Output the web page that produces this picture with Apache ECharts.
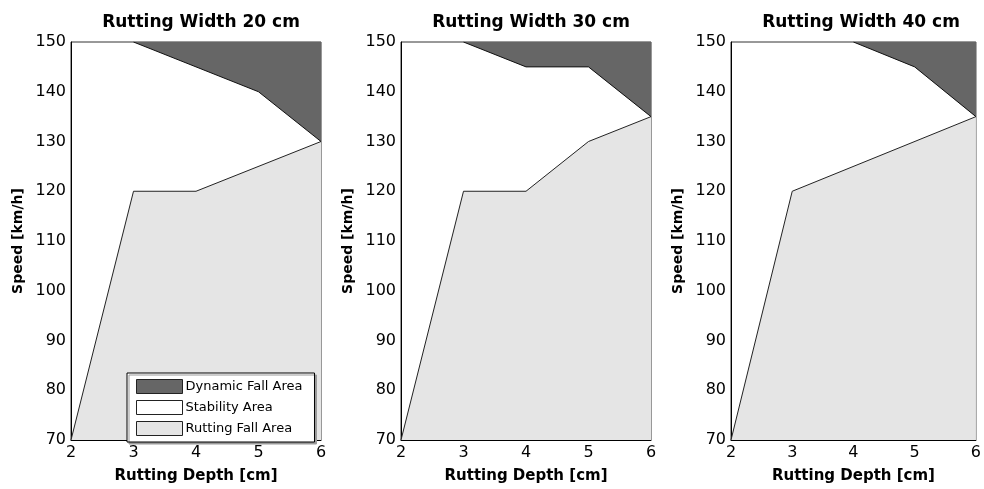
<!DOCTYPE html>
<html><head><meta charset="utf-8">
<script src="https://cdn.jsdelivr.net/npm/echarts@6/dist/echarts.min.js"></script>
<style>html,body{margin:0;padding:0;background:#fff}#c{width:984px;height:489px}</style>
</head><body><div id="c"></div>
<script>
const titles = ['Rutting Width 20 cm', 'Rutting Width 30 cm', 'Rutting Width 40 cm'];
const xTicks = [2, 3, 4, 5, 6];
const yTicks = [70, 80, 90, 100, 110, 120, 130, 140, 150];
// Rutting fall area boundary (area below), [depth, speed]
const rut20 = [[2, 70], [3, 120], [4, 120], [6, 130]];
const rut30 = [[2, 70], [3, 120], [4, 120], [5, 130], [6, 135]];
const rut40 = [[2, 70], [3, 120], [6, 135]];
// Dynamic fall area boundary (area above)
const dyn20 = [[3, 150], [5, 140], [6, 130]];
const dyn30 = [[3, 150], [4, 145], [5, 145], [6, 135]];
const dyn40 = [[4, 150], [5, 145], [6, 135]];
const legendNames = ['Dynamic Fall Area', 'Stability Area', 'Rutting Fall Area'];

const rutSets = [rut20, rut30, rut40];
const dynSets = [dyn20, dyn30, dyn40];
const lefts = [71, 401, 731];
const W = 250;
const font = 'DejaVu Sans, Liberation Sans, Arial, sans-serif';

const chart = echarts.init(document.getElementById('c'));
const grid = [], xAxis = [], yAxis = [], title = [], series = [];
for (let i = 0; i < 3; i++) {
  grid.push({left: lefts[i], top: 42, width: W, height: 400, show: true, borderColor: '#333', borderWidth: 1, backgroundColor: '#fff', z: 0});
  title.push({text: titles[i], left: lefts[i] + W / 2, top: 9, textAlign: 'center',
    textStyle: {fontFamily: font, fontSize: 17, fontWeight: 'bold', color: '#000'}});
  xAxis.push({type: 'value', gridIndex: i, min: xTicks[0], max: xTicks[xTicks.length - 1], interval: 1,
    name: 'Rutting Depth [cm]', nameLocation: 'middle', nameGap: 29,
    nameTextStyle: {fontFamily: font, fontSize: 15, fontWeight: 'bold', color: '#000'},
    axisLine: {show: true, lineStyle: {color: '#000', width: 1}}, axisTick: {show: false},
    splitLine: {show: false},
    axisLabel: {fontFamily: font, fontSize: 16, color: '#000', margin: 5}});
  yAxis.push({type: 'value', gridIndex: i, min: yTicks[0], max: yTicks[yTicks.length - 1], interval: 10,
    name: 'Speed [km/h]', nameLocation: 'middle', nameGap: 46,
    nameTextStyle: {fontFamily: font, fontSize: 14, fontWeight: 'bold', color: '#000'},
    axisLine: {show: true, lineStyle: {color: '#000', width: 1}}, axisTick: {show: false},
    splitLine: {show: false},
    axisLabel: {fontFamily: font, fontSize: 16, color: '#000', margin: 5}});
  series.push({name: legendNames[2], type: 'line', xAxisIndex: i, yAxisIndex: i, data: rutSets[i],
    showSymbol: false, symbol: 'none', silent: true, animation: false,
    itemStyle: {color: '#e5e5e5'}, lineStyle: {color: '#222', width: 1},
    areaStyle: {color: '#e5e5e5', opacity: 1, origin: 'start'}, z: 2});
  series.push({name: legendNames[0], type: 'line', xAxisIndex: i, yAxisIndex: i, data: dynSets[i],
    showSymbol: false, symbol: 'none', silent: true, animation: false,
    itemStyle: {color: '#666666'}, lineStyle: {color: '#111', width: 1},
    areaStyle: {color: '#666666', opacity: 1, origin: 'end'}, z: 2});
}
series.push({name: legendNames[1], type: 'line', xAxisIndex: 0, yAxisIndex: 0, data: [],
  itemStyle: {color: '#ffffff'}, lineStyle: {color: '#000'}});

chart.setOption({
  animation: false,
  title, grid, xAxis, yAxis, series,
  legend: {
    data: legendNames, orient: 'vertical', left: 127, top: 373,
    icon: 'rect', itemWidth: 46, itemHeight: 14, itemGap: 6,
    padding: [6, 12, 6, 9],
    backgroundColor: '#fff', borderColor: '#000', borderWidth: 1,
    shadowColor: '#999', shadowOffsetX: 2, shadowOffsetY: 2, shadowBlur: 0,
    itemStyle: {borderColor: '#222', borderWidth: 1},
    textStyle: {fontFamily: font, fontSize: 13, color: '#000', padding: [0, 0, 0, -2]},
    selectedMode: false
  }
});
</script></body></html>
